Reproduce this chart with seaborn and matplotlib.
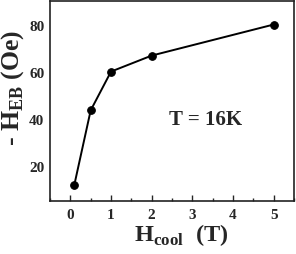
import numpy as np
import pandas as pd
import matplotlib
matplotlib.use("Agg")
import matplotlib.pyplot as plt
import seaborn as sns

# data
h_cool = [0.1, 0.5, 1.0, 2.0, 5.0]
h_eb = [12.0, 43.5, 60.0, 66.8, 80.0]
x_ticks = [0, 1, 2, 3, 4, 5]
y_ticks = [20, 40, 60, 80]

sns.set_theme(style="ticks")
plt.rcParams["font.family"] = ["Liberation Serif", "DejaVu Serif"]
plt.rcParams["font.weight"] = "bold"
plt.rcParams["mathtext.fontset"] = "custom"
plt.rcParams["mathtext.rm"] = "Liberation Serif:bold"
plt.rcParams["mathtext.bf"] = "Liberation Serif:bold"

df = pd.DataFrame({"h_cool": h_cool, "h_eb": h_eb})

fig = plt.figure(figsize=(2.96, 2.55), dpi=100)
ax = fig.add_axes([50 / 296, 1 - 202 / 255, 244 / 296, 200 / 255])

sns.lineplot(data=df, x="h_cool", y="h_eb", ax=ax, color="black",
             linewidth=1.4, marker="o", markersize=5.5,
             markeredgecolor="black")

ax.set_xlim(-0.5, 5.5)
ax.set_ylim(5, 90)
ax.set_xticks(x_ticks)
ax.set_xticks(np.arange(-0.5, 5.6, 0.5), minor=True)
ax.set_yticks(y_ticks)
ax.tick_params(axis="x", which="major", direction="in", length=4,
               width=1, labelsize=11, pad=5)
ax.tick_params(axis="x", which="minor", direction="in", length=2.5, width=1)
ax.tick_params(axis="y", direction="in", length=0, labelsize=11, pad=4)
for lab in ax.get_xticklabels() + ax.get_yticklabels():
    lab.set_fontweight("bold")

for s in ax.spines.values():
    s.set_color("#222222")
    s.set_linewidth(1.2)

ax.set_xlabel("H$_{\\mathrm{cool}}$  (T)", fontsize=17.5, fontweight="bold")
ax.set_ylabel("- H$_{\\mathrm{EB}}$ (Oe)", fontsize=18.5, fontweight="bold")
ax.xaxis.set_label_coords(0.537, -0.1)
ax.yaxis.set_label_coords(-0.1, 0.57)
ax.text(3.33, 40, "T = 16K", fontsize=15, fontweight="bold",
        ha="center", va="center")

fig.savefig("out.png", dpi=100)
